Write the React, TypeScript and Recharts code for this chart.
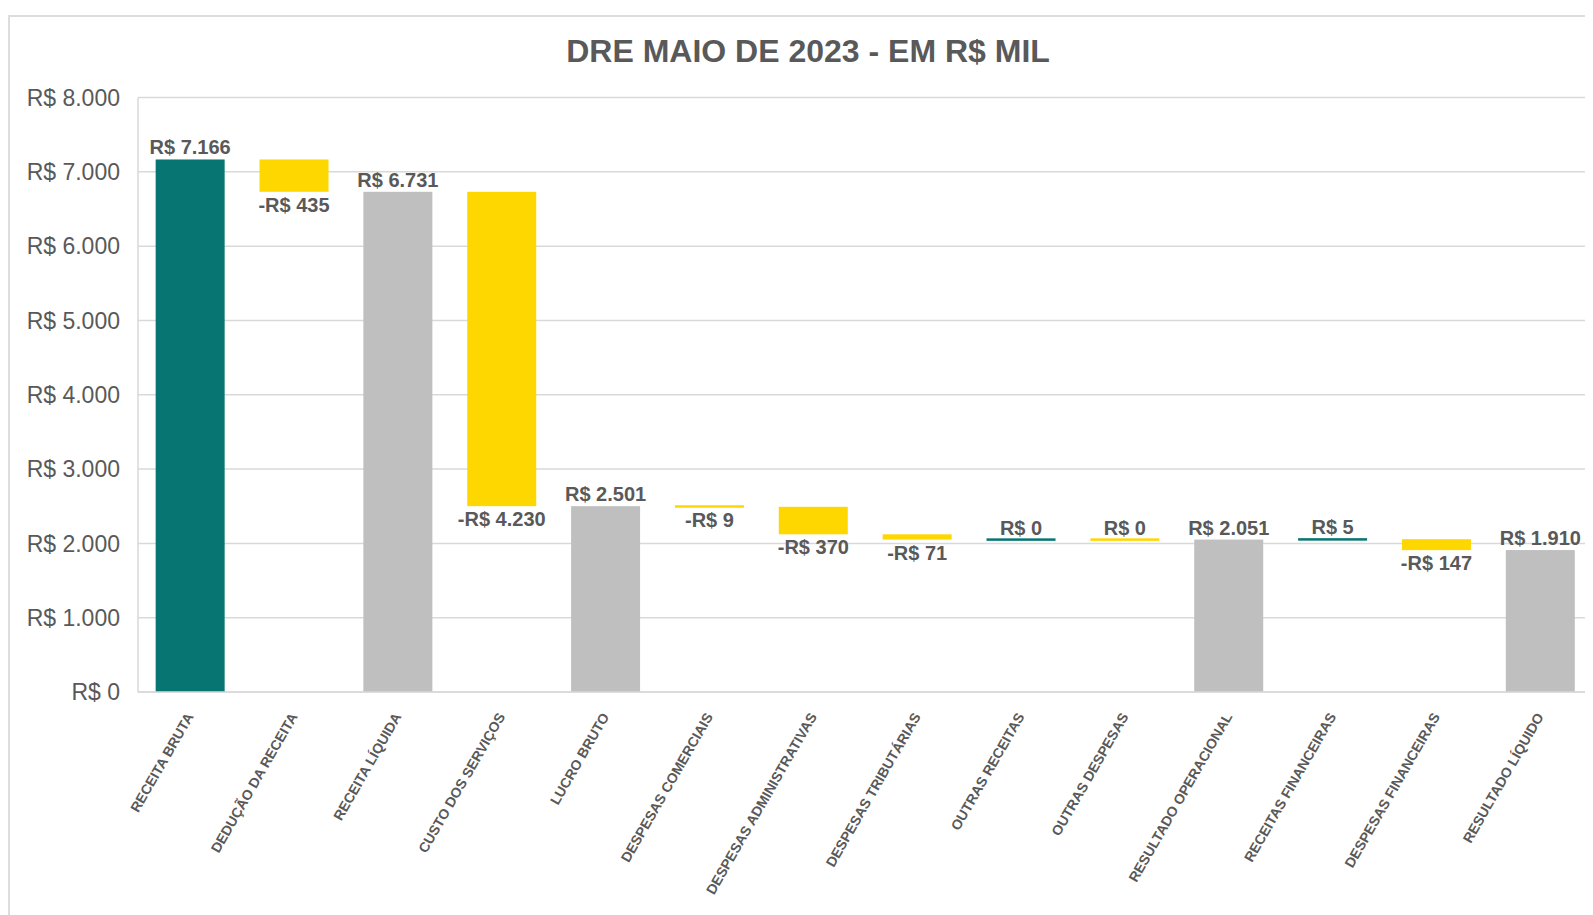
import React from "react";
import { BarChart, Bar, XAxis, YAxis, CartesianGrid, Cell, LabelList } from "recharts";

const CATEGORIES = [
  "RECEITA BRUTA", "DEDUÇÃO DA RECEITA", "RECEITA LÍQUIDA", "CUSTO DOS SERVIÇOS",
  "LUCRO BRUTO", "DESPESAS COMERCIAIS", "DESPESAS ADMINISTRATIVAS", "DESPESAS TRIBUTÁRIAS",
  "OUTRAS RECEITAS", "OUTRAS DESPESAS", "RESULTADO OPERACIONAL", "RECEITAS FINANCEIRAS",
  "DESPESAS FINANCEIRAS", "RESULTADO LÍQUIDO",
];
const VALUES = [7166, -435, 6731, -4230, 2501, -9, -370, -71, 0, 0, 2051, 5, -147, 1910];
// up = aumento, down = redução, total = subtotal
const KINDS = ["up", "down", "total", "down", "total", "down", "down", "down", "up", "down", "total", "up", "down", "total"];
const Y_TICKS = [0, 1000, 2000, 3000, 4000, 5000, 6000, 7000, 8000];

const COLORS: Record<string, string> = { up: "#077672", down: "#FFD700", total: "#BFBFBF" };
const FONT = "'Liberation Sans', Arial, sans-serif";
const TEXT = "#595959";

const fmt = (n: number) =>
  (n < 0 ? "-" : "") + "R$ " + Math.abs(n).toString().replace(/\B(?=(\d{3})+(?!\d))/g, ".");

// monta as faixas do waterfall a partir dos valores
let running = 0;
const rows = CATEGORIES.map((name, i) => {
  const v = VALUES[i];
  let low: number, high: number;
  if (KINDS[i] === "total") {
    low = 0; high = v; running = v;
  } else {
    const end = running + v;
    low = Math.min(running, end); high = Math.max(running, end);
    running = end;
  }
  return { name, range: [low, high], labelText: fmt(v), kind: KINDS[i] };
});

function WaterfallBar(props: any) {
  const { x, y, width, height, fill } = props;
  let top = Math.min(y, y + height);
  let h = Math.abs(height);
  if (h < 2.5) { top = top + h / 2 - 1.25; h = 2.5; }
  return <rect x={x} y={top} width={width} height={h} fill={fill} />;
}

function BarLabel(props: any) {
  const { x, y, width, height, value } = props;
  const top = Math.min(y, y + height);
  const bottom = Math.max(y, y + height);
  const below = String(value).startsWith("-");
  return (
    <text x={x + width / 2} y={below ? bottom + 20 : top - 5} textAnchor="middle"
      fontFamily={FONT} fontSize={20} fontWeight="bold" fill={TEXT}>
      {value}
    </text>
  );
}

function CategoryTick(props: any) {
  const { x, payload } = props;
  const ax = x;
  const ay = 684 + 22;
  return (
    <text x={ax} y={ay} dy="0.35em" textAnchor="end" transform={`rotate(-60, ${ax}, ${ay})`}
      fontFamily={FONT} fontSize={14} fontWeight="bold" fill={TEXT}>
      {payload.value}
    </text>
  );
}

export default function App() {
  return (
    <div style={{ position: "relative", width: 1585, height: 907, overflow: "hidden", background: "#fff" }}>
      <div style={{ position: "absolute", left: 0, top: 7, width: 1700, height: 1000, border: "2px solid #DDDDDD" }} />
      <div style={{
        position: "absolute", left: 300, top: 25, width: 1000, textAlign: "center", lineHeight: "36px",
        fontFamily: FONT, fontSize: 32, fontWeight: "bold", color: TEXT,
      }}>
        DRE MAIO DE 2023 - EM R$ MIL
      </div>
      <div style={{ position: "absolute", left: 0, top: 0 }}>
        <BarChart width={1585} height={907} data={rows}
          margin={{ top: 89.5, right: 1, left: 0, bottom: 0 }} barCategoryGap="17%">
          <CartesianGrid vertical={false} stroke="#D9D9D9" strokeWidth={1.5} />
          <XAxis dataKey="name" height={223} interval={0} tickLine={false}
            axisLine={{ stroke: "#D9D9D9", strokeWidth: 1.5 }} tick={<CategoryTick />} />
          <YAxis width={130} domain={[0, 8000]} ticks={Y_TICKS} tickLine={false} tickMargin={12}
            axisLine={{ stroke: "#D9D9D9", strokeWidth: 1.5 }} tickFormatter={fmt}
            tick={{ fontFamily: FONT, fontSize: 23, fill: TEXT }} />
          <Bar dataKey="range" isAnimationActive={false} shape={<WaterfallBar />}>
            {rows.map((r, i) => <Cell key={i} fill={COLORS[r.kind]} />)}
            <LabelList dataKey="labelText" content={<BarLabel />} />
          </Bar>
        </BarChart>
      </div>
    </div>
  );
}
